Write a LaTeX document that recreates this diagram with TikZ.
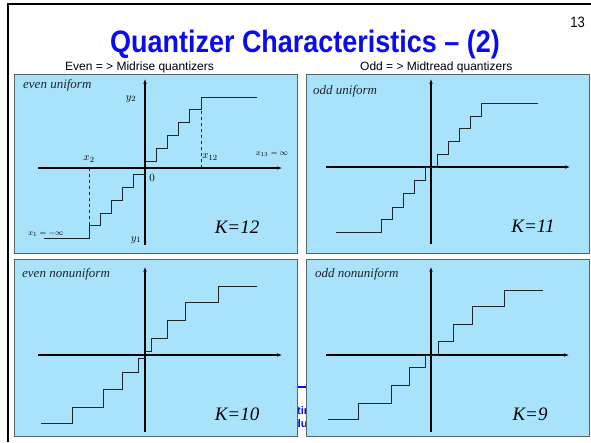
\documentclass[tikz,border=0pt]{standalone}
\usepackage{amsmath}
\usepackage{amssymb}
\usepackage{xcolor}
\usepackage{fontspec}
\setmainfont{Liberation Serif}
\newfontfamily\slidesf{Liberation Sans}
\newfontfamily\headsf[FakeStretch=0.87]{Liberation Sans}
\usepackage{tikz}
\usetikzlibrary{arrows.meta,calc}

\definecolor{panelblue}{HTML}{A9E3FB}
\definecolor{panelrim}{HTML}{56656C}
\definecolor{headblue}{HTML}{0B0BEF}
\definecolor{stairgray}{HTML}{1E262B}

\begin{document}
\begin{tikzpicture}[
  x=1pt, y=-1pt,
  >={Latex[length=6pt,width=3.5pt]},
  panel/.style={fill=panelblue, draw=panelrim, line width=0.8pt},
  axis/.style={->, line width=1.3pt, black},
  stair/.style={line width=0.9pt, stairgray},
  guide/.style={dashed, line width=0.5pt, stairgray},
  kind/.style={anchor=base west, font=\fontsize{13}{15}\selectfont\itshape, text=stairgray, inner sep=0pt},
  lbl/.style={font=\fontsize{11}{13}\selectfont, inner sep=0pt},
  tiny/.style={font=\fontsize{8}{10}\selectfont, inner sep=0pt},
  klabel/.style={font=\fontsize{19}{22}\selectfont\itshape, inner sep=0pt}
]
\useasboundingbox (0,0) rectangle (591,442);
\fill[white] (0,0) rectangle (591,442);

% slide frame
\draw[line width=2.5pt, black] (8,442) -- (8,4) -- (591,4);

% heading
\node[anchor=base, font=\headsf\bfseries\fontsize{31}{34}\selectfont, text=headblue, inner sep=0pt]
  (head) at (305,52) {Quantizer Characteristics – (2)};
\node[anchor=base east, font=\headsf\fontsize{15}{17}\selectfont, inner sep=0pt] (pageno) at (585,27) {13};
\node[anchor=base west, font=\slidesf\fontsize{12}{14}\selectfont, inner sep=0pt] (evenhd) at (65,70) {Even = > Midrise quantizers};
\node[anchor=base west, font=\slidesf\fontsize{12}{14}\selectfont, inner sep=0pt] (oddhd) at (360,70) {Odd = > Midtread quantizers};

% footer bits showing between the panels
\begin{scope}
  \clip (297,380) rectangle (306,436);
  \draw[headblue, line width=1.5pt] (290,387) -- (312,387);
  \node[anchor=base west, font=\slidesf\bfseries\fontsize{11}{13}\selectfont, text=headblue, inner sep=0pt] (foota) at (297,414) {tir};
  \node[anchor=base west, font=\slidesf\bfseries\fontsize{11}{13}\selectfont, text=headblue, inner sep=0pt] (footb) at (294,427) {du};
\end{scope}

% four panels
\draw[panel] (14,74) rectangle (297,253);
\draw[panel] (306,74) rectangle (589,253);
\draw[panel] (14,259) rectangle (297,436);
\draw[panel] (306,259) rectangle (589,436);

% even uniform, K=12
\begin{scope}[shift={(145,168)}, y=1pt]
  \draw[axis] (-107,0) -- (138,0);
  \draw[axis] (0,-77) -- (0,90);
  \draw[stair] (0,6.5) -- (11.2,6.5) -- (11.2,19.5) -- (22.4,19.5) -- (22.4,32.5) -- (33.6,32.5)
    -- (33.6,45.5) -- (44.8,45.5) -- (44.8,58.5) -- (56,58.5) -- (56,71) -- (112,71);
  \draw[stair] (0,-6.5) -- (-11.2,-6.5) -- (-11.2,-19.5) -- (-22.4,-19.5) -- (-22.4,-32) -- (-33.6,-32)
    -- (-33.6,-45) -- (-44.8,-45) -- (-44.8,-57.5) -- (-56,-57.5) -- (-56,-70) -- (-101,-70);
  \draw[guide] (-56,0) -- (-56,-57.5);
  \draw[guide] (56,0) -- (56,58.5);
\end{scope}
\node[kind] (evenU) at (23,88) {even uniform};
\node[lbl] (ytop) at (131,99) {$y_2$};
\node[lbl] (ybot) at (136,240) {$y_1$};
\node[lbl] (zero) at (152,178) {$0$};
\node[lbl] (xtwo) at (89,159) {$x_2$};
\node[lbl] (xtwelve) at (210,157) {$x_{12}$};
\node[tiny] (xlast) at (272,154) {$x_{13}=\infty$};
\node[tiny] (xfirst) at (46,234) {$x_1=-\infty$};
\node[klabel] (kA) at (237,227) {K=12};

% odd uniform, K=11
\begin{scope}[shift={(431,167)}, y=1pt]
  \draw[axis] (-105,0) -- (140,0);
  \draw[axis] (0,-77) -- (0,89);
  \draw[stair] (-6,0) -- (6,0) -- (6,12.5) -- (17,12.5) -- (17,25.5) -- (28,25.5) -- (28,38.5)
    -- (39,38.5) -- (39,51) -- (50,51) -- (50,64) -- (107,64);
  \draw[stair] (-6,0) -- (-6,-13) -- (-17,-13) -- (-17,-26) -- (-28,-26) -- (-28,-40)
    -- (-39,-40) -- (-39,-52) -- (-50,-52) -- (-50,-65) -- (-95,-65);
\end{scope}
\node[kind] (oddU) at (313,94) {odd uniform};
\node[klabel] (kB) at (533,226) {K=11};

% even nonuniform, K=10
\begin{scope}[shift={(145,355)}, y=1pt]
  \draw[axis] (-107,0) -- (138,0);
  \draw[axis] (0,-77) -- (0,89);
  \draw[stair] (0,4) -- (6,4) -- (6,17) -- (22,17) -- (22,35) -- (40,35) -- (40,53)
    -- (73,53) -- (73,69) -- (112,69);
  \draw[stair] (0,-3) -- (-7,-3) -- (-7,-17) -- (-23,-17) -- (-23,-34) -- (-42,-34) -- (-42,-52)
    -- (-73,-52) -- (-73,-68) -- (-104,-68);
\end{scope}
\node[kind] (evenN) at (22,277) {even nonuniform};
\node[klabel] (kC) at (237,414) {K=10};

% odd nonuniform, K=9
\begin{scope}[shift={(431,355)}, y=1pt]
  \draw[axis] (-105,0) -- (139,0);
  \draw[axis] (0,-77) -- (0,89);
  \draw[stair] (-6,0) -- (7,0) -- (7,14) -- (22,14) -- (22,31) -- (41,31) -- (41,49)
    -- (73,49) -- (73,65) -- (112,65);
  \draw[stair] (-6,0) -- (-6,-12) -- (-22,-12) -- (-22,-30) -- (-40,-30) -- (-40,-48)
    -- (-73,-48) -- (-73,-64) -- (-103,-64);
\end{scope}
\node[kind] (oddN) at (315,277) {odd nonuniform};
\node[klabel] (kD) at (530,414) {K=9};

\end{tikzpicture}
\end{document}
